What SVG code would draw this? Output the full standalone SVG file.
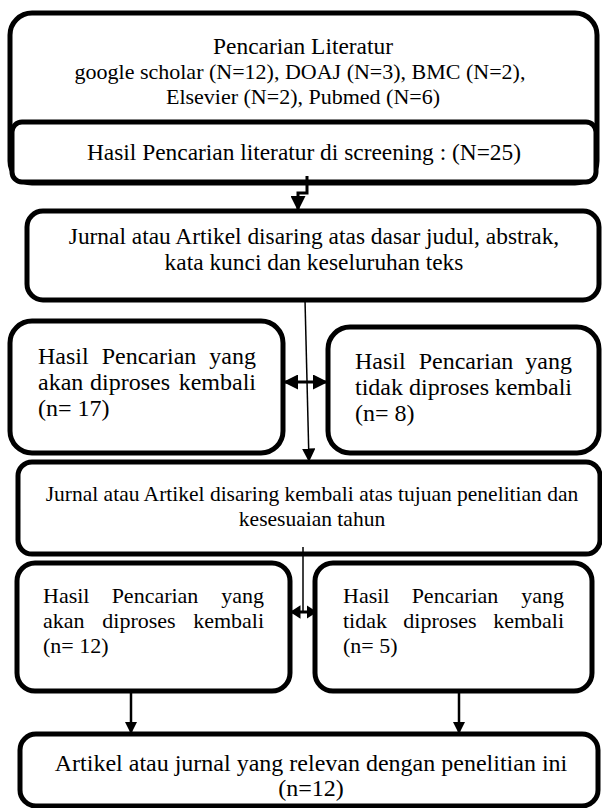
<svg xmlns="http://www.w3.org/2000/svg" width="602" height="808" viewBox="0 0 602 808">
<defs>
<marker id="ah" viewBox="0 0 10 10" refX="10" refY="5" markerWidth="5" markerHeight="5" orient="auto-start-reverse" markerUnits="strokeWidth">
<path d="M0,0 L10,5 L0,10 Z" fill="#000"/>
</marker>
<marker id="ahm" viewBox="0 0 10 10" refX="10" refY="5" markerWidth="3.5" markerHeight="4.5" orient="auto-start-reverse" markerUnits="strokeWidth" preserveAspectRatio="none">
<path d="M0,0 L10,5 L0,10 Z" fill="#000"/>
</marker>
<marker id="ahs" viewBox="0 0 10 10" refX="10" refY="5" markerWidth="9" markerHeight="9" orient="auto-start-reverse" markerUnits="strokeWidth">
<path d="M0,0 L10,5 L0,10 Z" fill="#000"/>
</marker>
</defs>
<style>
.box{fill:#fff;stroke:#000;stroke-width:5}
text{font-family:'Liberation Serif','Times New Roman',Times,serif;font-size:22px;fill:#000}
.c{text-anchor:middle}
.e{text-anchor:end}
.f21{font-size:21.5px}
.f23{font-size:23.4px}
.f24{font-size:24px}
.ln{fill:none;stroke:#000}
</style>
<rect width="602" height="808" fill="#fff"/>
<g id="n1">
<rect class="box" x="10" y="13" width="587" height="170" rx="22"/>
<text class="c f23" x="303" y="54">Pencarian Literatur</text>
<text class="c" x="300" y="79">google scholar (N=12), DOAJ (N=3), BMC (N=2),</text>
<text class="c" x="303" y="104">Elsevier (N=2), Pubmed (N=6)</text>
</g>
<g id="n1b">
<rect class="box" x="12" y="122" width="584" height="60" rx="10"/>
<text class="c f23" x="304" y="160">Hasil Pencarian literatur di screening : (N=25)</text>
</g>
<g id="n2">
<rect class="box" x="27" y="211" width="572" height="89" rx="16"/>
<text class="c f23" x="314" y="244">Jurnal atau Artikel disaring atas dasar judul, abstrak,</text>
<text class="c f23" x="314" y="270">kata kunci dan keseluruhan teks</text>
</g>
<g id="n3a">
<rect class="box" x="10" y="321" width="273" height="132" rx="22"/>
<text class="f24" x="38" y="364">Hasil</text><text class="c f24" x="149" y="364">Pencarian</text><text class="e f24" x="256" y="364">yang</text>
<text class="f24" x="38" y="390">akan</text><text class="c f24" x="130" y="390">diproses</text><text class="e f24" x="256" y="390">kembali</text>
<text class="f24" x="38" y="416">(n= 17)</text>
</g>
<g id="n3b">
<rect class="box" x="328" y="327" width="271" height="126" rx="22"/>
<text class="f24" x="355" y="369">Hasil</text><text class="c f24" x="466" y="369">Pencarian</text><text class="e f24" x="572" y="369">yang</text>
<text class="f24" x="355" y="395">tidak</text><text class="c f24" x="449" y="395">diproses</text><text class="e f24" x="572" y="395">kembali</text>
<text class="f24" x="355" y="421">(n= 8)</text>
</g>
<g id="n4">
<rect class="box" x="18" y="462" width="582" height="92" rx="14"/>
<text class="c f21" x="312" y="501">Jurnal atau Artikel disaring kembali atas tujuan penelitian dan</text>
<text class="c f21" x="312" y="526">kesesuaian tahun</text>
</g>
<g id="n5a">
<rect class="box" x="17" y="563" width="273" height="128" rx="18"/>
<text x="43" y="603">Hasil</text><text class="c" x="155" y="603">Pencarian</text><text class="e" x="264" y="603">yang</text>
<text x="43" y="628">akan</text><text class="c" x="139" y="628">diproses</text><text class="e" x="264" y="628">kembali</text>
<text x="43" y="653">(n= 12)</text>
</g>
<g id="n5b">
<rect class="box" x="315" y="563" width="277" height="128" rx="18"/>
<text x="343" y="603">Hasil</text><text class="c" x="455" y="603">Pencarian</text><text class="e" x="564" y="603">yang</text>
<text x="343" y="628">tidak</text><text class="c" x="440" y="628">diproses</text><text class="e" x="564" y="628">kembali</text>
<text x="343" y="653">(n= 5)</text>
</g>
<g id="n6">
<rect class="box" x="20" y="734" width="578" height="72" rx="16"/>
<text class="c f24" x="311" y="771">Artikel atau jurnal yang relevan dengan penelitian ini</text>
<text class="c f24" x="311" y="796">(n=12)</text>
</g>
<g id="connectors">
<path class="ln" d="M307,176 V193 H298 V211" stroke-width="3" marker-end="url(#ah)"/>
<path class="ln" d="M305,300 L309,462" stroke-width="1.5" marker-end="url(#ahs)"/>
<path class="ln" d="M283,382 H328" stroke-width="3" marker-start="url(#ah)" marker-end="url(#ah)"/>
<path class="ln" d="M303,547 V612" stroke-width="1.5"/>
<path class="ln" d="M290,612 H317" stroke-width="3" marker-start="url(#ahm)" marker-end="url(#ahm)"/>
<path class="ln" d="M131,690 V734" stroke-width="2.5" marker-end="url(#ah)"/>
<path class="ln" d="M459,690 V734" stroke-width="2.5" marker-end="url(#ah)"/>
</g>
</svg>
